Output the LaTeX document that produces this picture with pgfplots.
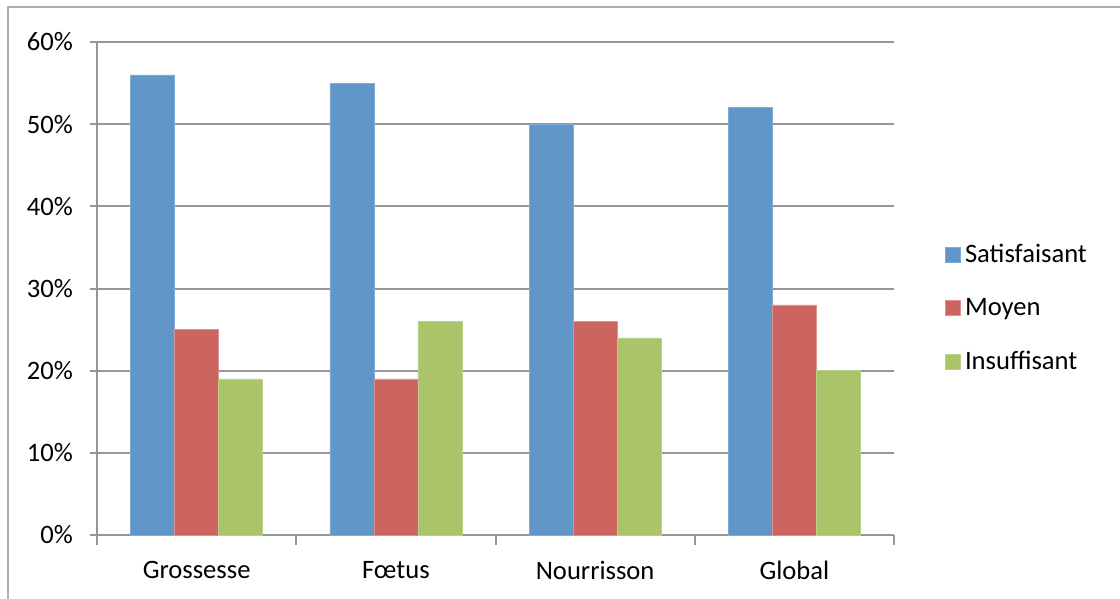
\documentclass[border=0pt]{standalone}
\usepackage{pgfplots}
\pgfplotsset{compat=1.18}
\usepackage{fontspec}
\setmainfont{Carlito}

\definecolor{cSat}{RGB}{96,150,200}
\definecolor{cMoy}{RGB}{204,101,96}
\definecolor{cIns}{RGB}{170,196,106}
\definecolor{axgray}{RGB}{150,150,150}
\definecolor{framegray}{RGB}{175,175,175}

\begin{document}
\begin{tikzpicture}
\path[use as bounding box] (0pt,0pt) rectangle (560pt,-299.5pt);
\draw[framegray, line width=0.8pt] (4pt,-305pt) -- (4pt,-3.5pt) -- (565pt,-3.5pt);
\begin{axis}[
  at={(48.5pt,-267.5pt)}, anchor=south west,
  scale only axis, width=398.5pt, height=246.5pt,
  font=\fontsize{13.3}{16}\selectfont,
  /pgf/number format/assume math mode=true,
  ybar=0pt, bar width=22pt,
  xmin=-0.5, xmax=3.5, ymin=0, ymax=60,
  axis lines*=left,
  axis line style={axgray, line width=1pt},
  ytick={0,10,...,60},
  yticklabel={\pgfmathprintnumber{\tick}\%},
  ymajorgrids, grid style={axgray, line width=1pt},
  xtick={0,1,2,3},
  xticklabels={Grossesse,F\oe tus,Nourrisson,Global},
  x tick label style={yshift=-6pt},
  y tick label style={xshift=-5pt},
  major x tick style={draw=none},
  major y tick style={axgray, line width=1pt},
  tick align=outside, major tick length=3.5pt,
  extra x ticks={-0.5,0.5,1.5,2.5,3.5},
  extra x tick labels={},
  extra x tick style={grid=none, major x tick style={draw=axgray, line width=1pt}, major tick length=5pt},
  legend style={draw=none, fill=none, at={(1.064,0.4604)}, anchor=west,
    font=\fontsize{13.3}{16}\selectfont, row sep=12.4pt,
    legend cell align=left, inner sep=0pt},
  legend image code/.code={\fill[#1] (0pt,-3.75pt) rectangle (7.5pt,3.75pt);},
]
\addplot[fill=cSat, draw=cSat!80!white, line width=0.3pt] coordinates {(0,56) (1,55) (2,50) (3,52)};
\addplot[fill=cMoy, draw=cMoy!70!white, line width=0.3pt] coordinates {(0,25) (1,19) (2,26) (3,28)};
\addplot[fill=cIns, draw=cIns!80!white, line width=0.3pt] coordinates {(0,19) (1,26) (2,24) (3,20)};
\legend{Satisfaisant,Moyen,Insuffisant}
\end{axis}
\end{tikzpicture}
\end{document}
